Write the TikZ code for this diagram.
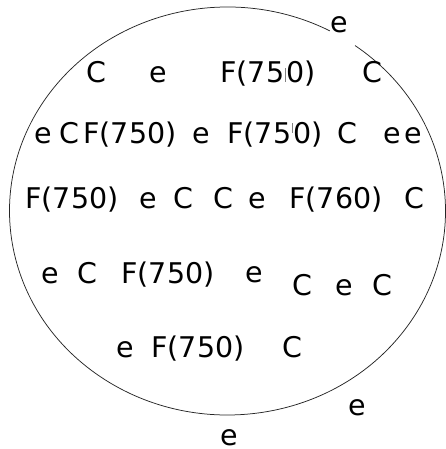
\documentclass[tikz,border=0pt]{standalone}
\usepackage{fontspec}
\setmainfont{DejaVu Sans}
% thin grey stroke set over the gap between two digits
\newcommand\digittick[2]{\kern1pt\makebox[0pt]{\textcolor{gray}{\rule[#1]{0.45pt}{#2}}}\kern1pt}
\begin{document}
\begin{tikzpicture}[x=1pt,y=-1pt,
  lbl/.style={anchor=base, inner sep=0pt, font=\fontsize{28.5}{32}\selectfont},
  rim/.style={line width=0.75pt, draw=black!85}]
\useasboundingbox (0,0) rectangle (446,449);
% the rim, open where the upper right "e" sits on it
\draw[rim] (227.5,211) ++(-54.2:218 and 204)
  arc[start angle=-54.2, end angle=298, x radius=218, y radius=204];
% outside the rim
\node[lbl] (etop) at (339,33) {e};
\node[lbl] (ebr)  at (357,415) {e};
\node[lbl] (ebot) at (229,445) {e};
% row 1
\node[lbl] (a1) at (96,83) {C};
\node[lbl] (a2) at (158,83) {e};
\node[lbl] (a3) at (268,83) {F(75\digittick{1pt}{14pt}0)};
\node[lbl] (a4) at (372,83) {C};
% row 2
\node[lbl] (b1) at (43,143) {e};
\node[lbl] (b2) at (69,143) {C};
\node[lbl] (b3) at (130,143) {F(750)};
\node[lbl] (b4) at (201,143) {e};
\node[lbl] (b5) at (275,143) {F(75\digittick{10pt}{10pt}0)};
\node[lbl] (b6) at (347,143) {C};
\node[lbl] (b7) at (392,143) {e};
\node[lbl] (b8) at (413,143) {e};
% row 3
\node[lbl] (c1) at (72,208) {F(750)};
\node[lbl] (c2) at (148,208) {e};
\node[lbl] (c3) at (183,208) {C};
\node[lbl] (c4) at (223,208) {C};
\node[lbl] (c5) at (257,208) {e};
\node[lbl] (c6) at (336,208) {F(760)};
\node[lbl] (c7) at (414,208) {C};
% row 4
\node[lbl] (d1) at (50,283) {e};
\node[lbl] (d2) at (87,283) {C};
\node[lbl] (d3) at (168,283) {F(750)};
\node[lbl] (d4) at (254,282) {e};
\node[lbl] (d5) at (302,295) {C};
\node[lbl] (d6) at (344,295) {e};
\node[lbl] (d7) at (382,295) {C};
% row 5
\node[lbl] (f1) at (125,357) {e};
\node[lbl] (f2) at (198,357) {F(750)};
\node[lbl] (f3) at (292,357) {C};
\end{tikzpicture}
\end{document}
